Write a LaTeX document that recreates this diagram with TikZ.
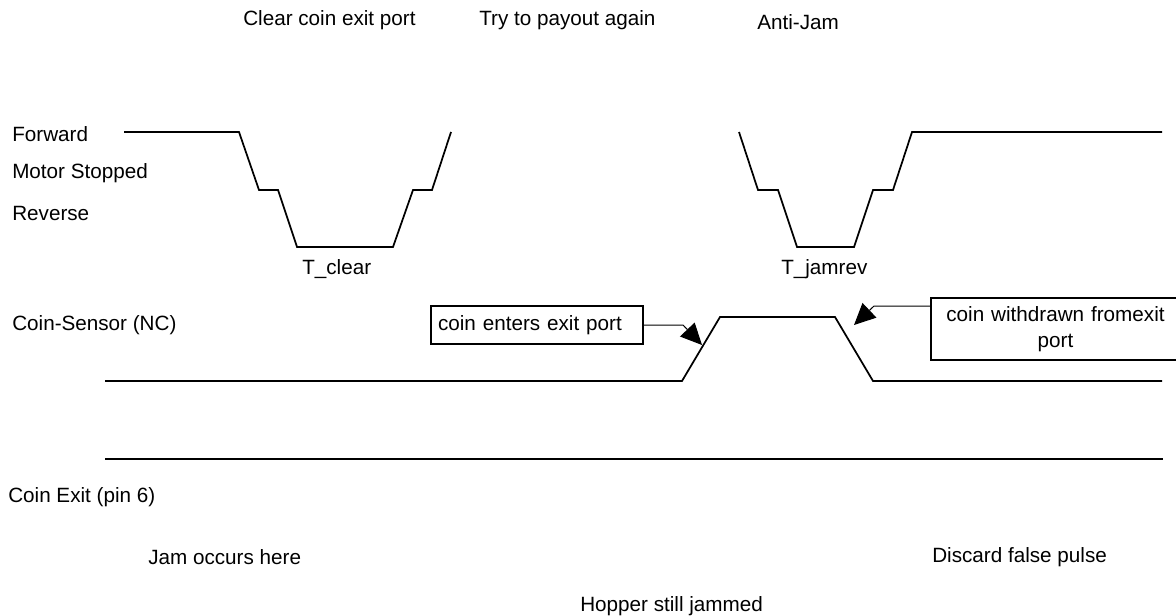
\documentclass[tikz,border=0pt]{standalone}
\usepackage{fontspec}
\setmainfont{Liberation Sans}
\usetikzlibrary{arrows.meta}
\begin{document}
\begin{tikzpicture}[x=0.75pt,y=-0.75pt,
  every node/.style={font=\fontsize{15.5}{19.5}\selectfont, inner sep=0pt},
  lbl/.style={anchor=west},
  wave/.style={line width=1.3pt, line join=miter},
  calloutbox/.style={draw, line width=1.1pt, inner sep=0pt},
  conn/.style={line width=0.75pt, -{Triangle[length=16pt,width=15pt]}}]
\useasboundingbox (0,0) rectangle (1176,616);
% titles
\node[lbl] (tclearport) at (243,20) {Clear coin exit port};
\node[lbl] (tpayout) at (479,20) {Try to payout again};
\node[lbl] (tantijam) at (757,22) {Anti-Jam};
% motor labels
\node[lbl] (lfwd) at (12,134) {Forward};
\node[lbl] (lstop) at (12,173) {Motor Stopped};
\node[lbl] (lrev) at (12,213) {Reverse};
\node[lbl] (tclear) at (302,269) {T\_clear};
\node[lbl] (tjamrev) at (781,269) {T\_jamrev};
% motor waveform
\draw[wave] (124,132) -- (239,132) -- (259,190) -- (278,190) -- (297,247) -- (393,247) -- (413,190) -- (432,190) -- (451,132);
\draw[wave] (739,132) -- (758,190) -- (778,190) -- (797,247) -- (854,247) -- (873,190) -- (893,190) -- (912,132) -- (1162,132);
% coin sensor
\node[lbl] (lsens) at (12,325) {Coin-Sensor (NC)};
\draw[wave] (105,381) -- (682,381) -- (720,317) -- (835,317) -- (873,381) -- (1162,381);
\node[calloutbox, minimum width=159pt, minimum height=28.5pt, text width=148.5pt, align=left] (box1) at (537,325) {coin enters exit port};
\node[calloutbox, minimum width=186.75pt, minimum height=46.5pt, text width=172.5pt, align=center] (box2) at (1055.5,329) {coin withdrawn fromexit\\port};
\coordinate (a1b) at (683,325);
\coordinate (a1t) at (702,345);
\draw[conn] (box1.east) -- (a1b) -- (a1t);
\coordinate (a2b) at (874,306);
\coordinate (a2t) at (854,325);
\draw[conn] (box2.west |- a2b) -- (a2b) -- (a2t);
% coin exit
\draw[wave] (105,459) -- (1163,459);
\node[lbl] (lexit) at (8,497) {Coin Exit (pin 6)};
\node[lbl] (ljam) at (148,557) {Jam occurs here};
\node[lbl] (ldiscard) at (932,557) {Discard false pulse};
\node[lbl] (lhopper) at (580,606) {Hopper still jammed};
\end{tikzpicture}
\end{document}
